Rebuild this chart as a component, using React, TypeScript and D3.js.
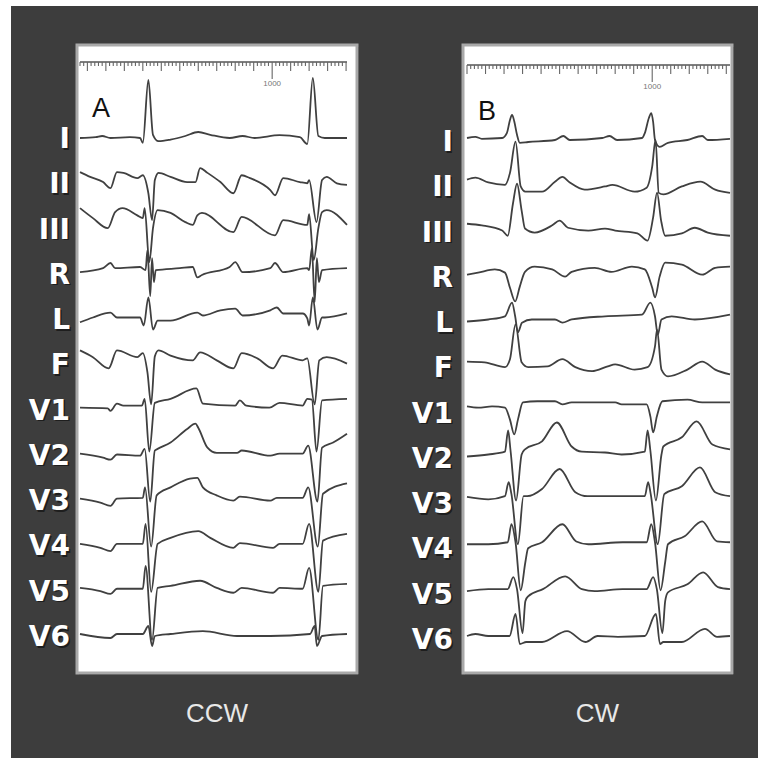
import React from 'react';
import * as d3 from 'd3';

type Pt = [number, number];

// lead names, top to bottom
const leads = ['I', 'II', 'III', 'R', 'L', 'F', 'V1', 'V2', 'V3', 'V4', 'V5', 'V6'];

// panel A (CCW) — [ms, mV]
const ccwI: Pt[] = [[-40, 0], [45, 0.02], [80, 0.05], [125, 0], [230, 0.02], [285, 0], [300, -0.12], [330, 1.45], [355, 0.08], [385, -0.08], [450, -0.04], [530, 0.05], [600, 0.15], [665, 0.08], [770, 0], [840, 0.05], [905, 0], [1040, 0.07], [1150, 0.02], [1190, -0.15], [1220, 1.5], [1250, 0.05], [1285, 0], [1405, 0]];
const ccwII: Pt[] = [[-40, 0.2], [15, 0.08], [85, -0.05], [125, -0.2], [160, 0.2], [195, 0.18], [270, 0.05], [300, 0.12], [330, -0.33], [350, -1.0], [365, 0], [385, 0.18], [450, 0.08], [540, -0.05], [585, -0.05], [610, 0.3], [650, 0.18], [720, -0.05], [790, -0.33], [835, 0.12], [880, 0.05], [990, -0.25], [1015, -0.38], [1060, 0.05], [1150, -0.05], [1190, -0.08], [1200, 0], [1240, -1.05], [1270, 0], [1295, 0.08], [1350, -0.08], [1405, -0.12]];
const ccwIII: Pt[] = [[-40, 0.3], [30, 0.05], [110, -0.2], [150, 0.2], [190, 0.3], [270, 0.12], [300, 0.05], [310, 0.3], [335, -1.05], [355, -0.2], [380, 0.25], [450, 0.18], [530, -0.05], [570, -0.12], [595, 0.12], [620, 0.18], [790, -0.3], [835, 0.08], [1015, -0.38], [1060, 0], [1190, -0.12], [1200, 0.15], [1225, -1.0], [1250, -0.2], [1270, 0.2], [1295, 0.25], [1405, -0.12]];
const ccwR: Pt[] = [[-40, -0.05], [85, 0.05], [125, 0.18], [150, 0.05], [285, 0.08], [315, 0], [325, 0.5], [340, -0.65], [350, 0.3], [360, -0.3], [370, 0], [500, 0.05], [570, 0.08], [595, -0.18], [620, -0.12], [770, 0.08], [800, 0.2], [840, -0.05], [990, 0.05], [1015, 0.18], [1060, -0.05], [1190, 0.05], [1200, 0], [1215, 0.55], [1230, -0.8], [1242, 0.3], [1253, -0.3], [1270, 0], [1405, 0.05]];
const ccwL: Pt[] = [[-40, -0.12], [30, 0], [125, 0.12], [160, 0], [285, 0], [305, -0.2], [330, 0.5], [355, -0.3], [380, -0.08], [450, -0.08], [595, 0.12], [625, 0.05], [720, 0.18], [800, 0.22], [840, 0.05], [990, 0.18], [1025, 0.25], [1060, 0.1], [1165, 0.1], [1190, -0.02], [1200, -0.2], [1220, 0.5], [1245, -0.3], [1270, 0], [1285, 0], [1405, 0.1]];
const ccwF: Pt[] = [[-40, 0.25], [30, 0.08], [115, -0.2], [160, 0.25], [270, 0.08], [300, 0.18], [325, -0.3], [345, -1.1], [365, 0.1], [385, 0.25], [450, 0.12], [570, 0], [610, 0.2], [700, 0], [790, -0.2], [835, 0.18], [920, 0.05], [1005, -0.2], [1055, 0.12], [1165, 0], [1190, 0.05], [1230, -1.1], [1255, 0], [1295, 0.08], [1405, -0.08]];
const ccwV1: Pt[] = [[-40, 0], [110, -0.02], [125, -0.08], [160, 0.1], [195, 0.05], [295, 0.05], [310, 0.22], [335, -1.1], [365, 0.12], [450, 0.22], [590, 0.48], [625, 0.1], [800, 0.05], [825, 0.18], [860, 0.05], [985, 0], [1040, 0.12], [1165, 0.05], [1190, 0.22], [1215, 0.2], [1240, -1.1], [1270, 0.18], [1405, 0.22]];
const ccwV2: Pt[] = [[-40, 0], [85, -0.1], [125, -0.15], [160, -0.02], [285, -0.05], [310, 0.12], [340, -1.2], [365, 0.08], [380, 0.12], [450, 0.28], [540, 0.62], [585, 0.75], [600, 0.65], [650, 0.15], [700, 0.02], [810, 0.02], [835, 0.08], [990, -0.05], [1040, 0], [1165, 0], [1195, 0.2], [1245, -1.2], [1270, 0.15], [1330, 0.28], [1405, 0.5]];
const ccwV3: Pt[] = [[-40, 0], [70, -0.1], [125, -0.18], [160, 0], [300, 0.02], [312, 0.28], [345, -1.2], [375, 0.08], [450, 0.28], [555, 0.5], [595, 0.52], [625, 0.28], [700, 0.08], [790, -0.05], [825, 0.05], [990, -0.05], [1025, 0.02], [1165, 0.02], [1195, 0.28], [1247, -1.2], [1275, 0.12], [1405, 0.38]];
const ccwV4: Pt[] = [[-40, 0], [70, -0.1], [125, -0.18], [160, 0], [300, 0], [315, 0.5], [345, -1.2], [380, 0], [450, 0.15], [600, 0.32], [665, 0.15], [790, -0.1], [825, 0.02], [1005, -0.1], [1040, 0], [1165, 0], [1200, 0.5], [1250, -1.2], [1275, 0.08], [1405, 0.25]];
const ccwV5: Pt[] = [[-40, 0], [70, -0.08], [125, -0.15], [160, -0.02], [300, -0.02], [315, 0.55], [350, -1.3], [380, 0], [450, 0.05], [610, 0.18], [700, 0], [790, -0.12], [835, 0], [1005, -0.12], [1040, 0], [1165, -0.02], [1200, 0.5], [1250, -1.3], [1275, 0.05], [1405, 0.1]];
const ccwV6: Pt[] = [[-40, 0.05], [125, -0.05], [160, 0.05], [300, 0.05], [330, 0.25], [350, -0.25], [365, 0], [450, 0.05], [625, 0.12], [810, 0], [990, 0], [1205, 0.05], [1230, 0.25], [1242, -0.25], [1270, 0], [1405, 0.05]];
// baseline wander per lead, mV
const ccwOffsets = [0, 0.08, 0.21, 0.09, 0.04, 0.1, 0.05, 0.03, 0.04, 0.04, 0.07, 0];

// panel B (CW) — [ms, mV]
const cwI: Pt[] = [[0, 0], [45, 0.03], [80, -0.02], [190, 0], [215, 0.12], [232, 0.45], [243, 0.58], [255, 0.42], [270, 0.08], [285, -0.12], [330, -0.1], [475, -0.05], [520, 0.05], [555, -0.05], [730, 0], [770, 0.05], [810, -0.05], [945, 0], [960, 0.12], [982, 0.5], [995, 0.62], [1005, 0.4], [1015, -0.05], [1040, -0.22], [1085, -0.12], [1190, -0.05], [1270, 0.05], [1300, -0.05], [1420, -0.02]];
const cwII: Pt[] = [[0, 0.15], [45, 0.2], [115, 0.08], [205, 0.02], [232, 0.32], [262, 1.1], [290, -0.02], [315, -0.15], [405, -0.15], [475, 0.1], [515, 0.22], [555, 0.08], [635, -0.1], [745, -0.02], [785, 0.02], [905, -0.15], [970, -0.05], [1000, 0.48], [1018, 1.15], [1035, -0.18], [1060, -0.22], [1160, -0.02], [1260, 0.1], [1340, -0.1], [1420, -0.18]];
const cwIII: Pt[] = [[0, 0.12], [80, 0.08], [190, -0.05], [220, -0.18], [248, 0.62], [270, 1.12], [295, 0.45], [313, 0], [365, -0.1], [460, 0.08], [500, 0.2], [545, 0.02], [655, -0.05], [745, 0], [800, -0.05], [920, -0.12], [975, -0.3], [1005, 0.28], [1026, 0.9], [1048, 0.2], [1070, -0.18], [1160, -0.12], [1230, 0.02], [1300, -0.1], [1420, -0.18]];
const cwR: Pt[] = [[0, -0.05], [60, 0], [150, 0.08], [205, 0], [232, -0.38], [260, -0.72], [285, -0.35], [313, 0.02], [365, 0.15], [460, 0.08], [530, -0.1], [565, 0.02], [690, 0.12], [780, 0.02], [890, 0.15], [960, 0.08], [1000, -0.38], [1015, -0.62], [1040, -0.1], [1070, 0.25], [1160, 0.2], [1270, -0.05], [1340, 0.12], [1420, 0.15]];
const cwL: Pt[] = [[0, -0.05], [115, 0], [205, 0.08], [243, 0.42], [260, 0.08], [275, -0.32], [297, -0.08], [350, 0], [475, 0], [515, -0.08], [565, 0], [745, 0.08], [945, 0.12], [990, 0.42], [1015, 0.08], [1030, -0.38], [1050, 0], [1105, 0.08], [1230, 0], [1420, 0.12]];
const cwF: Pt[] = [[0, 0.02], [95, 0], [205, -0.12], [232, 0.08], [262, 0.95], [295, 0], [330, -0.12], [435, -0.1], [515, 0.08], [585, -0.12], [675, -0.22], [760, -0.1], [800, -0.05], [905, -0.18], [975, -0.12], [1015, 0.4], [1026, 0.82], [1050, -0.18], [1085, -0.35], [1190, -0.18], [1270, 0.02], [1340, -0.18], [1420, -0.3]];
const cwV1: Pt[] = [[0, -0.05], [60, -0.08], [135, -0.05], [205, -0.08], [232, -0.38], [255, -0.75], [275, -0.38], [302, 0.05], [380, 0.08], [475, 0.08], [515, 0], [565, 0.05], [800, 0.05], [835, 0], [970, 0], [990, -0.3], [1005, -0.7], [1025, -0.3], [1055, 0.08], [1190, 0.12], [1270, 0.05], [1420, 0.05]];
const cwV2: Pt[] = [[0, -0.1], [115, -0.05], [205, 0.02], [222, 0.55], [235, 0.05], [265, -1.2], [295, -0.05], [313, 0.08], [405, 0.28], [485, 0.75], [565, 0.15], [620, 0.02], [745, 0], [835, -0.05], [960, 0.02], [975, 0.55], [990, 0.05], [1020, -1.2], [1050, -0.05], [1060, 0.15], [1160, 0.38], [1240, 0.78], [1325, 0.2], [1420, 0.08]];
const cwV3: Pt[] = [[0, -0.02], [115, -0.08], [205, 0], [225, 0.35], [240, 0.05], [275, -1.2], [305, 0], [325, 0], [405, 0.18], [500, 0.68], [585, 0.1], [650, 0], [840, 0], [960, 0], [978, 0.35], [992, 0.05], [1030, -1.2], [1065, 0.05], [1160, 0.25], [1258, 0.72], [1340, 0.1], [1420, 0]];
const cwV4: Pt[] = [[0, -0.05], [115, -0.05], [220, 0], [240, 0.45], [262, 0], [290, -1.2], [315, -0.5], [330, -0.15], [405, 0], [515, 0.45], [590, 0.02], [655, -0.05], [840, 0], [970, 0], [995, 0.45], [1015, 0], [1045, -1.2], [1070, -0.5], [1085, -0.05], [1175, 0.15], [1270, 0.52], [1350, 0.02], [1420, 0]];
const cwV5: Pt[] = [[0, -0.05], [115, 0], [220, 0], [250, 0.3], [270, 0], [300, -1.1], [315, -0.3], [330, -0.18], [410, 0], [530, 0.32], [620, 0], [690, -0.05], [840, 0], [970, 0], [1005, 0.3], [1025, 0], [1055, -1.1], [1070, -0.3], [1085, -0.08], [1190, 0.12], [1275, 0.42], [1355, 0.05], [1420, 0]];
const cwV6: Pt[] = [[0, 0], [45, 0.05], [115, 0], [230, 0], [262, 0.55], [285, -0.2], [320, -0.15], [405, -0.15], [540, 0.12], [640, -0.15], [705, 0], [815, -0.02], [960, 0], [1020, 0.55], [1042, -0.2], [1060, -0.15], [1160, -0.15], [1285, 0.18], [1350, -0.02], [1420, 0]];
const cwOffsets = [0, -0.06, 0, 0.03, -0.01, 0.05, 0.13, 0.06, 0.1, 0.08, 0.04, 0];

const ccwTraces = [ccwI, ccwII, ccwIII, ccwR, ccwL, ccwF, ccwV1, ccwV2, ccwV3, ccwV4, ccwV5, ccwV6];
const cwTraces = [cwI, cwII, cwIII, cwR, cwL, cwF, cwV1, cwV2, cwV3, cwV4, cwV5, cwV6];

const rulerMarker = 1000; // ms

const panels = [
  { title: 'A', caption: 'CCW', traces: ccwTraces, offsets: ccwOffsets, domain: [-40, 1405], box: [77, 357], plot: [80, 347], rulerY: 62, labelX: 70, labelDy: 10, titleY: 117 },
  { title: 'B', caption: 'CW', traces: cwTraces, offsets: cwOffsets, domain: [0, 1420], box: [463, 732], plot: [467, 730], rulerY: 65, labelX: 453, labelDy: 13, titleY: 120 },
];

const PX_PER_MV = 40;

function Panel({ p }: { p: typeof panels[number] }) {
  const x = d3.scaleLinear().domain(p.domain).range(p.plot);
  const rows = d3.scalePoint().domain(leads).range([138, 636]);
  const minor = d3.range(Math.ceil(p.domain[0] / 20) * 20, p.domain[1], 20);
  const top = 45, bottom = 673;
  const [bx0, bx1] = p.box;

  return (
    <g>
      <rect x={bx0 + 2} y={top + 2} width={bx1 - bx0} height={bottom - top} fill="#2a2a2a" />
      <rect x={bx0} y={top} width={bx1 - bx0} height={bottom - top} fill="#fff" stroke="#a9a9a9" strokeWidth={3} />
      {/* ruler */}
      <line x1={p.plot[0]} x2={p.plot[1]} y1={p.rulerY} y2={p.rulerY} stroke="#555" strokeWidth={1.3} />
      {minor.map(t => {
        const len = t === rulerMarker ? 17 : t % 100 === 0 ? 9 : 4;
        return <line key={t} x1={x(t)} x2={x(t)} y1={p.rulerY} y2={p.rulerY + len} stroke="#666" strokeWidth={1.1} />;
      })}
      <text x={x(rulerMarker)} y={p.rulerY + 24} fontSize={8} fill="#777" textAnchor="middle" fontFamily="Liberation Sans">{rulerMarker}</text>
      <text x={bx0 + 15} y={p.titleY} fontSize={27} fill="#111" fontFamily="Liberation Sans">{p.title}</text>
      {/* traces */}
      {leads.map((lead, i) => {
        const row = rows(lead)!;
        const y = d3.scaleLinear().domain([-1, 1]).range([row + PX_PER_MV, row - PX_PER_MV]);
        const line = d3.line<Pt>()
          .x(d => x(d[0]))
          .y(d => y(d[1] + p.offsets[i]))
          .curve(d3.curveMonotoneX);
        return <path key={lead} d={line(p.traces[i]) || ''} fill="none" stroke="#404040" strokeWidth={1.8} strokeLinejoin="round" />;
      })}
      {/* lead labels */}
      {leads.map(lead => {
        const ly = rows(lead)! + p.labelDy;
        return (
          <g key={lead} fontFamily="DejaVu Sans" fontWeight="bold" fontSize={28} textAnchor="end">
            <text x={p.labelX + 1.5} y={ly + 1.5} fill="#1e1e1e">{lead}</text>
            <text x={p.labelX} y={ly} fill="#fff">{lead}</text>
          </g>
        );
      })}
      <text x={(bx0 + bx1) / 2} y={722} fontSize={26} fill="#e8e8e8" textAnchor="middle" fontFamily="Liberation Sans">{p.caption}</text>
    </g>
  );
}

export default function App() {
  return (
    <svg width={758} height={758} style={{ position: 'absolute', left: 0, top: 0, background: '#fff' }}>
      <rect x={11} y={6} width={747} height={752} fill="#3d3d3d" />
      {panels.map(p => <Panel key={p.title} p={p} />)}
    </svg>
  );
}
